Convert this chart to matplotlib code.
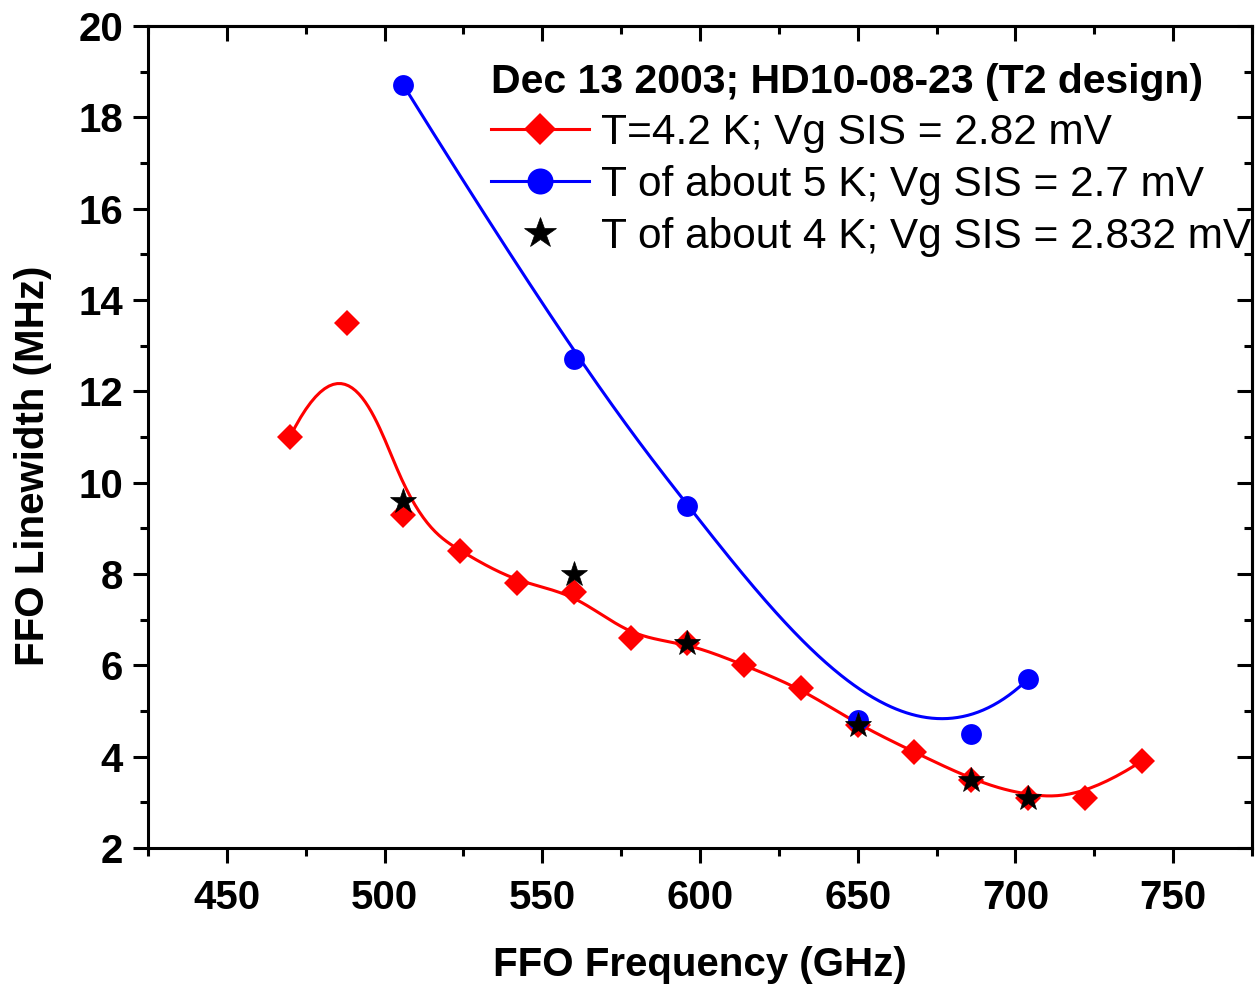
import numpy as np
import matplotlib
matplotlib.use('Agg')
import matplotlib.pyplot as plt
from matplotlib.ticker import MultipleLocator

plt.rcParams['font.family'] = ['Liberation Sans', 'DejaVu Sans']

# data
f_red = [470, 488, 506, 524, 542, 560, 578, 596, 614, 632, 650, 668, 686, 704, 722, 740]
w_red = [11.0, 13.5, 9.3, 8.5, 7.8, 7.6, 6.6, 6.5, 6.0, 5.5, 4.7, 4.1, 3.5, 3.1, 3.1, 3.9]

f_blue = [506, 560, 596, 650, 686, 704]
w_blue = [18.7, 12.7, 9.5, 4.8, 4.5, 5.7]

f_star = [506, 560, 596, 650, 686, 704]
w_star = [9.6, 8.0, 6.5, 4.7, 3.5, 3.1]

legend_title = 'Dec 13 2003; HD10-08-23 (T2 design)'
labels = ['T=4.2 K; Vg SIS = 2.82 mV',
          'T of about 5 K; Vg SIS = 2.7 mV',
          'T of about 4 K; Vg SIS = 2.832 mV']


def bspline(px, py, k=3, num=400):
    # clamped cubic B-spline using the data points as control points
    px = np.asarray(px, float)
    py = np.asarray(py, float)
    n = len(px)
    t = np.concatenate([np.zeros(k + 1), np.arange(1, n - k), np.full(k + 1, n - k)])
    u = np.linspace(0, n - k, num)
    u[-1] -= 1e-9
    N = np.zeros((num, len(t) - 1))
    for i in range(len(t) - 1):
        N[:, i] = (t[i] <= u) & (u < t[i + 1])
    for d in range(1, k + 1):
        Nn = np.zeros((num, len(t) - 1 - d))
        for i in range(len(t) - 1 - d):
            d1 = t[i + d] - t[i]
            d2 = t[i + d + 1] - t[i + 1]
            term = np.zeros(num)
            if d1 > 0:
                term += (u - t[i]) / d1 * N[:, i]
            if d2 > 0:
                term += (t[i + d + 1] - u) / d2 * N[:, i + 1]
            Nn[:, i] = term
        N = Nn
    return N @ px, N @ py


W, H = 1255, 989
fig = plt.figure(figsize=(W / 100, H / 100), dpi=100)
ax = fig.add_axes([148 / W, (H - 848) / H, 1104 / W, 822 / H])

xr, yr = bspline(f_red, w_red)
xb, yb = bspline(f_blue, w_blue)

ax.plot(xr, yr, color='red', lw=2.2, zorder=2)
ax.plot(f_red, w_red, 'D', color='red', ms=13, mew=0, zorder=3)
ax.plot(xb, yb, color='blue', lw=2.2, zorder=2)
ax.plot(f_blue, w_blue, 'o', color='blue', ms=15, mew=0, zorder=4)
ax.plot(f_star, w_star, '*', color='black', ms=19, mew=0.5, zorder=5)

# legend handles
h1, = ax.plot([], [], '-D', color='red', lw=2.2, ms=13, mew=0)
h2, = ax.plot([], [], '-o', color='blue', lw=2.2, ms=15, mew=0)
h3, = ax.plot([], [], '*', color='black', ms=19, mew=0.5)

leg = ax.legend([h1, h2, h3], labels, loc='upper left',
                bbox_to_anchor=(0.311, 0.955), frameon=False,
                fontsize=30.5, markerscale=1.25, handlelength=2.31,
                handletextpad=0.28, labelspacing=0.28, borderpad=0,
                borderaxespad=0, title=legend_title, alignment='left',
                title_fontproperties={'weight': 'bold', 'size': 29.5})

ax.set_xlim(425, 775)
ax.set_ylim(2, 20)
ax.xaxis.set_major_locator(MultipleLocator(50))
ax.xaxis.set_minor_locator(MultipleLocator(25))
ax.yaxis.set_major_locator(MultipleLocator(2))
ax.yaxis.set_minor_locator(MultipleLocator(1))

for s in ax.spines.values():
    s.set_linewidth(2.2)

ax.tick_params(which='major', direction='out', length=11, width=2.2,
               labelsize=29, pad=7)
ax.tick_params(axis='x', which='major', pad=11)
ax.tick_params(which='minor', direction='out', length=6, width=2.2)
for lab in ax.get_xticklabels() + ax.get_yticklabels():
    lab.set_fontweight('bold')

# mirrored ticks on top and right, pointing inward
top = ax.secondary_xaxis('top')
top.xaxis.set_major_locator(MultipleLocator(50))
top.xaxis.set_minor_locator(MultipleLocator(25))
top.tick_params(which='major', direction='in', length=11, width=2.2, labeltop=False)
top.tick_params(which='minor', direction='in', length=6, width=2.2)
top.spines['top'].set_linewidth(2.2)

right = ax.secondary_yaxis('right')
right.yaxis.set_major_locator(MultipleLocator(2))
right.yaxis.set_minor_locator(MultipleLocator(1))
right.tick_params(which='major', direction='in', length=11, width=2.2, labelright=False)
right.tick_params(which='minor', direction='in', length=6, width=2.2)
right.spines['right'].set_linewidth(2.2)

ax.set_xlabel('FFO Frequency (GHz)', fontsize=29, fontweight='bold', labelpad=21)
ax.set_ylabel('FFO Linewidth (MHz)', fontsize=29, fontweight='bold')
ax.yaxis.set_label_coords(-0.087, 0.465)

fig.savefig('out.png', dpi=100)
